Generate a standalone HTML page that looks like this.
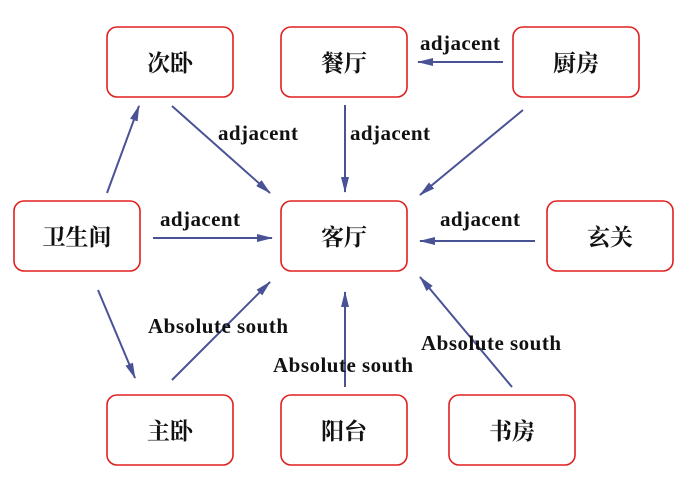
<!DOCTYPE html>
<html><head><meta charset="utf-8"><style>body{margin:0;background:#fff}</style></head><body>
<svg width="700" height="488" xmlns="http://www.w3.org/2000/svg">
<defs><marker id="a" markerWidth="16" markerHeight="8" refX="15" refY="4" orient="auto" markerUnits="userSpaceOnUse"><path d="M0,0 L16,4 L0,8 Z" fill="#4a5296"/></marker></defs>
<g fill="#fff" stroke="#e02020" stroke-width="1.6">
<rect x="107" y="27" width="126" height="70" rx="10"/>
<rect x="281" y="27" width="126" height="70" rx="10"/>
<rect x="513" y="27" width="126" height="70" rx="10"/>
<rect x="14" y="201" width="126" height="70" rx="10"/>
<rect x="281" y="201" width="126" height="70" rx="10"/>
<rect x="547" y="201" width="126" height="70" rx="10"/>
<rect x="107" y="395" width="126" height="70" rx="10"/>
<rect x="281" y="395" width="126" height="70" rx="10"/>
<rect x="449" y="395" width="126" height="70" rx="10"/>
</g>
<g font-family="'Noto Serif CJK SC','Noto Sans CJK SC',serif" font-size="23" font-weight="bold" text-anchor="middle" fill="#111">
<text x="170" y="71">次卧</text><text x="344" y="71">餐厅</text><text x="576" y="71">厨房</text>
<text x="77" y="245">卫生间</text><text x="344" y="245">客厅</text><text x="610" y="245">玄关</text>
<text x="170" y="439">主卧</text><text x="344" y="439">阳台</text><text x="512" y="439">书房</text>
</g>
<g stroke="#4a5296" stroke-width="2" marker-end="url(#a)">
<line x1="107" y1="193" x2="139" y2="106"/>
<line x1="172" y1="106" x2="270" y2="193"/>
<line x1="345" y1="105" x2="345" y2="192"/>
<line x1="503" y1="62" x2="418" y2="62"/>
<line x1="523" y1="110" x2="420" y2="195"/>
<line x1="153" y1="238" x2="272" y2="238"/>
<line x1="535" y1="241" x2="420" y2="241"/>
<line x1="98" y1="290" x2="135" y2="378"/>
<line x1="172" y1="380" x2="270" y2="282"/>
<line x1="345" y1="387" x2="345" y2="292"/>
<line x1="512" y1="387" x2="420" y2="277"/>
</g>
<g font-family="'Liberation Serif',serif" font-size="21" font-weight="bold" fill="#111">
<text x="218" y="140" textLength="80">adjacent</text><text x="350" y="140" textLength="80">adjacent</text><text x="420" y="50" textLength="80">adjacent</text>
<text x="160" y="226" textLength="80">adjacent</text><text x="440" y="226" textLength="80">adjacent</text>
<text x="148" y="333" textLength="140">Absolute south</text><text x="273" y="372" textLength="140">Absolute south</text><text x="421" y="350" textLength="140">Absolute south</text>
</g>
</svg>
</body></html>
